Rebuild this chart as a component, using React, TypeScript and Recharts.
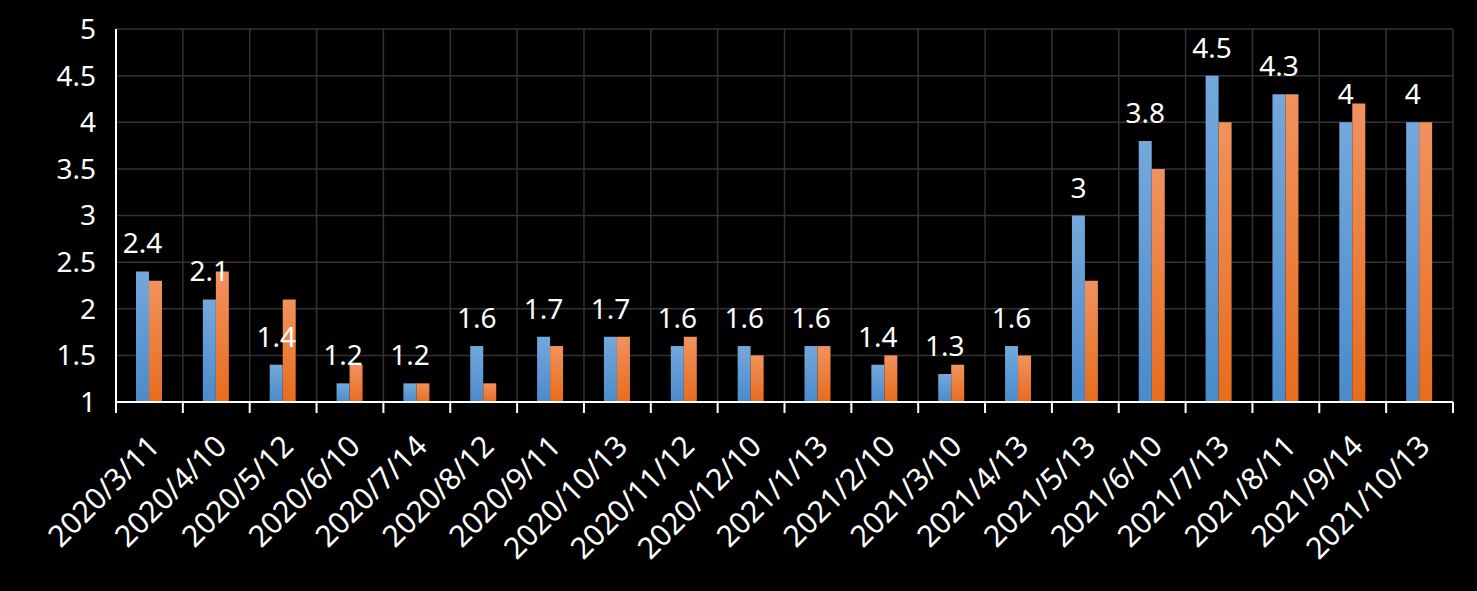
import { BarChart, Bar, XAxis, YAxis, CartesianGrid, LabelList } from "recharts";

const dates = [
  "2020/3/11", "2020/4/10", "2020/5/12", "2020/6/10", "2020/7/14",
  "2020/8/12", "2020/9/11", "2020/10/13", "2020/11/12", "2020/12/10",
  "2021/1/13", "2021/2/10", "2021/3/10", "2021/4/13", "2021/5/13",
  "2021/6/10", "2021/7/13", "2021/8/11", "2021/9/14", "2021/10/13",
];
const blueValues = [2.4, 2.1, 1.4, 1.2, 1.2, 1.6, 1.7, 1.7, 1.6, 1.6, 1.6, 1.4, 1.3, 1.6, 3, 3.8, 4.5, 4.3, 4, 4];
const orangeValues = [2.3, 2.4, 2.1, 1.4, 1.2, 1.2, 1.6, 1.7, 1.7, 1.5, 1.6, 1.5, 1.4, 1.5, 2.3, 3.5, 4, 4.3, 4.2, 4];
const yTicks = [1, 1.5, 2, 2.5, 3, 3.5, 4, 4.5, 5];

const data = dates.map((date, i) => ({ date, blue: blueValues[i], orange: orangeValues[i] }));

const W = 1477;
const H = 591;
const margin = { top: 29, right: 24, bottom: 0, left: 56 };
const Y_AXIS_W = 60;
const plotW = W - margin.left - margin.right - Y_AXIS_W;
const band = plotW / dates.length;

const FONT = "'Noto Sans', 'Open Sans', sans-serif";

// date label plus the tick mark on the left edge of its category
function DateTick({ x, y, payload, index }: any) {
  const ax = x + 12;
  const ay = y + 46;
  const left = x - band / 2;
  return (
    <g>
      <line x1={left} x2={left} y1={y} y2={y + 11} stroke="#fff" strokeWidth={2} />
      {index === dates.length - 1 && (
        <line x1={x + band / 2} x2={x + band / 2} y1={y} y2={y + 11} stroke="#fff" strokeWidth={2} />
      )}
      <text
        x={ax}
        y={ay}
        transform={`rotate(-45 ${ax} ${ay})`}
        textAnchor="end"
        fill="#fff"
        fontSize={30}
        fontFamily={FONT}
      >
        {payload.value}
      </text>
    </g>
  );
}

export default function App() {
  return (
    <div style={{ background: "#000", width: W, height: H }}>
      <style>{"body{margin:0;background:#000;overflow:hidden}"}</style>
      <BarChart
        width={W}
        height={H}
        data={data}
        margin={margin}
        barGap={0}
        barSize={13}
      >
        <defs>
          <linearGradient id="blueFill" x1="0" y1="0" x2="0" y2="1">
            <stop offset="0%" stopColor="#74a8dc" />
            <stop offset="100%" stopColor="#4a8bcc" />
          </linearGradient>
          <linearGradient id="orangeFill" x1="0" y1="0" x2="0" y2="1">
            <stop offset="0%" stopColor="#f1925e" />
            <stop offset="100%" stopColor="#e86c1c" />
          </linearGradient>
        </defs>
        <CartesianGrid
          stroke="#333"
          strokeWidth={1.5}
          verticalCoordinatesGenerator={({ offset }: any) =>
            [...dates.map((_, i) => i), dates.length].map((i) => offset.left + (i * offset.width) / dates.length)
          }
        />
        <XAxis
          dataKey="date"
          interval={0}
          axisLine={{ stroke: "#fff", strokeWidth: 2 }}
          tickLine={false}
          tickSize={0}
          tickMargin={0}
          tick={<DateTick />}
          height={H - 402}
        />
        <YAxis
          domain={[1, 5]}
          ticks={yTicks}
          allowDataOverflow
          width={Y_AXIS_W}
          tickLine={false}
          tickSize={0}
          tickMargin={20}
          axisLine={{ stroke: "#fff", strokeWidth: 2 }}
          tick={{ fill: "#fff", fontSize: 28, fontFamily: FONT }}
        />
        <Bar dataKey="blue" fill="url(#blueFill)" isAnimationActive={false}>
          <LabelList
            dataKey="blue"
            position="top"
            offset={18}
            fill="#fff"
            fontSize={28}
            fontFamily={FONT}
          />
        </Bar>
        <Bar dataKey="orange" fill="url(#orangeFill)" isAnimationActive={false} />
      </BarChart>
    </div>
  );
}
